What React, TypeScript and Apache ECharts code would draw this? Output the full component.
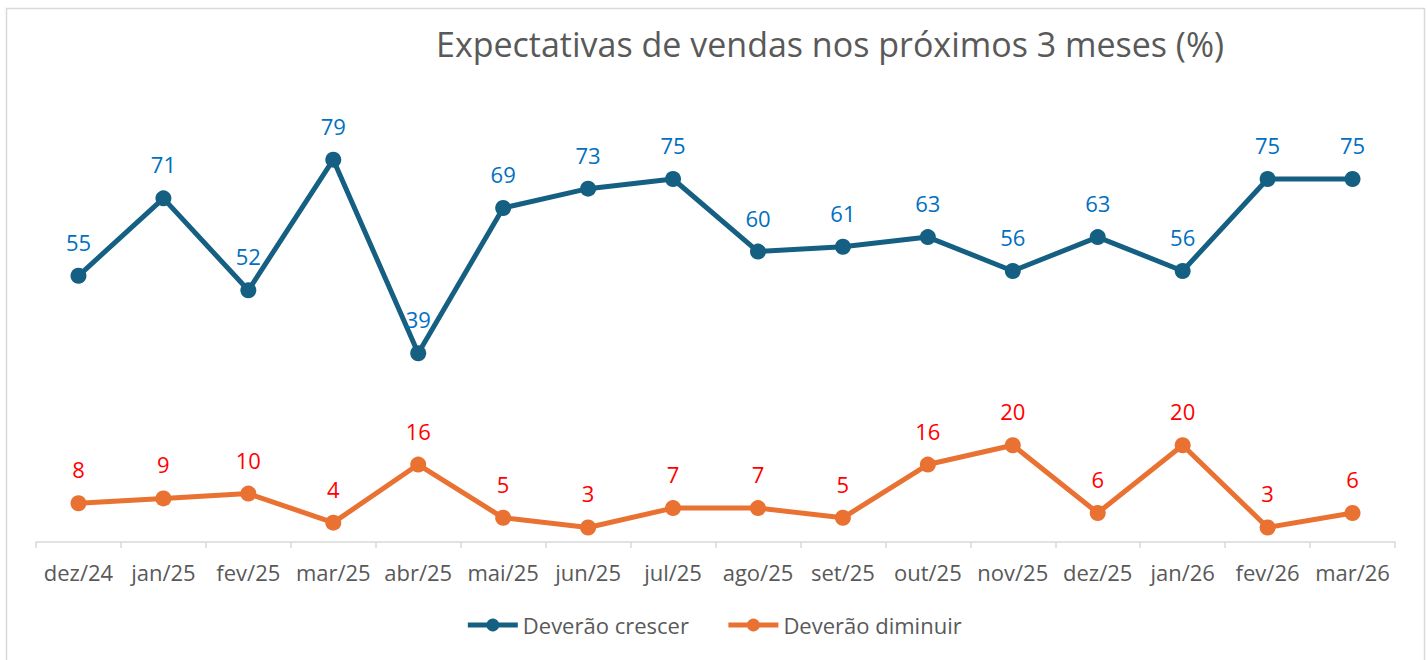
import React, { useEffect, useRef } from "react";
import * as echarts from "echarts";

const categories = ["dez/24","jan/25","fev/25","mar/25","abr/25","mai/25","jun/25","jul/25","ago/25","set/25","out/25","nov/25","dez/25","jan/26","fev/26","mar/26"];
const crescer = [55,71,52,79,39,69,73,75,60,61,63,56,63,56,75,75];
const diminuir = [8,9,10,4,16,5,3,7,7,5,16,20,6,20,3,6];
const titleText = "Expectativas de vendas nos próximos 3 meses (%)";
const seriesNames = ["Deverão crescer", "Deverão diminuir"];

const FONT = "Open Sans";

export default function App() {
  const ref = useRef<HTMLDivElement>(null);
  useEffect(() => {
    if (!ref.current) return;
    const chart = echarts.init(ref.current, null, { renderer: "svg" });
    chart.setOption({
      animation: false,
      backgroundColor: "#ffffff",
      textStyle: { fontFamily: FONT },
      title: {
        text: titleText,
        left: 825,
        top: 22,
        textAlign: "center",
        textStyle: { fontFamily: FONT, fontSize: 34, fontWeight: "normal", color: "#595959" },
      },
      graphic: [
        {
          type: "rect",
          shape: { x: 6.5, y: 8.5, width: 1418, height: 700 },
          style: { fill: "none", stroke: "#d9d9d9", lineWidth: 1.5 },
          silent: true,
        },
      ],
      legend: {
        top: 609,
        left: "center",
        itemWidth: 50,
        itemHeight: 16,
        itemGap: 37,
        lineStyle: { width: 5 },
        textStyle: { fontFamily: FONT, fontSize: 22, color: "#595959" },
        data: seriesNames,
      },
      grid: { left: 36, right: 32, top: 58, bottom: 118 },
      xAxis: {
        type: "category",
        data: categories,
        boundaryGap: true,
        axisLine: { lineStyle: { color: "#d9d9d9", width: 1.5 } },
        axisTick: { show: true, length: 6, lineStyle: { color: "#d9d9d9", width: 1.5 } },
        axisLabel: { fontFamily: FONT, fontSize: 22, color: "#595959", margin: 19, interval: 0 },
      },
      yAxis: {
        type: "value",
        min: 0,
        max: 100,
        show: false,
        splitLine: { show: false },
      },
      series: [
        {
          name: seriesNames[0],
          type: "line",
          data: crescer,
          symbol: "circle",
          symbolSize: 16,
          lineStyle: { color: "#156082", width: 5 },
          itemStyle: { color: "#156082" },
          label: { show: true, position: "top", distance: 15, color: "#0070C0", fontSize: 22, fontFamily: FONT },
        },
        {
          name: seriesNames[1],
          type: "line",
          data: diminuir,
          symbol: "circle",
          symbolSize: 16,
          lineStyle: { color: "#E97132", width: 5 },
          itemStyle: { color: "#E97132" },
          label: { show: true, position: "top", distance: 15, color: "#FF0000", fontSize: 22, fontFamily: FONT },
        },
      ],
    });
    return () => chart.dispose();
  }, []);
  return <div ref={ref} style={{ position: "fixed", left: 0, top: 0, width: 1427, height: 660 }} />;
}
